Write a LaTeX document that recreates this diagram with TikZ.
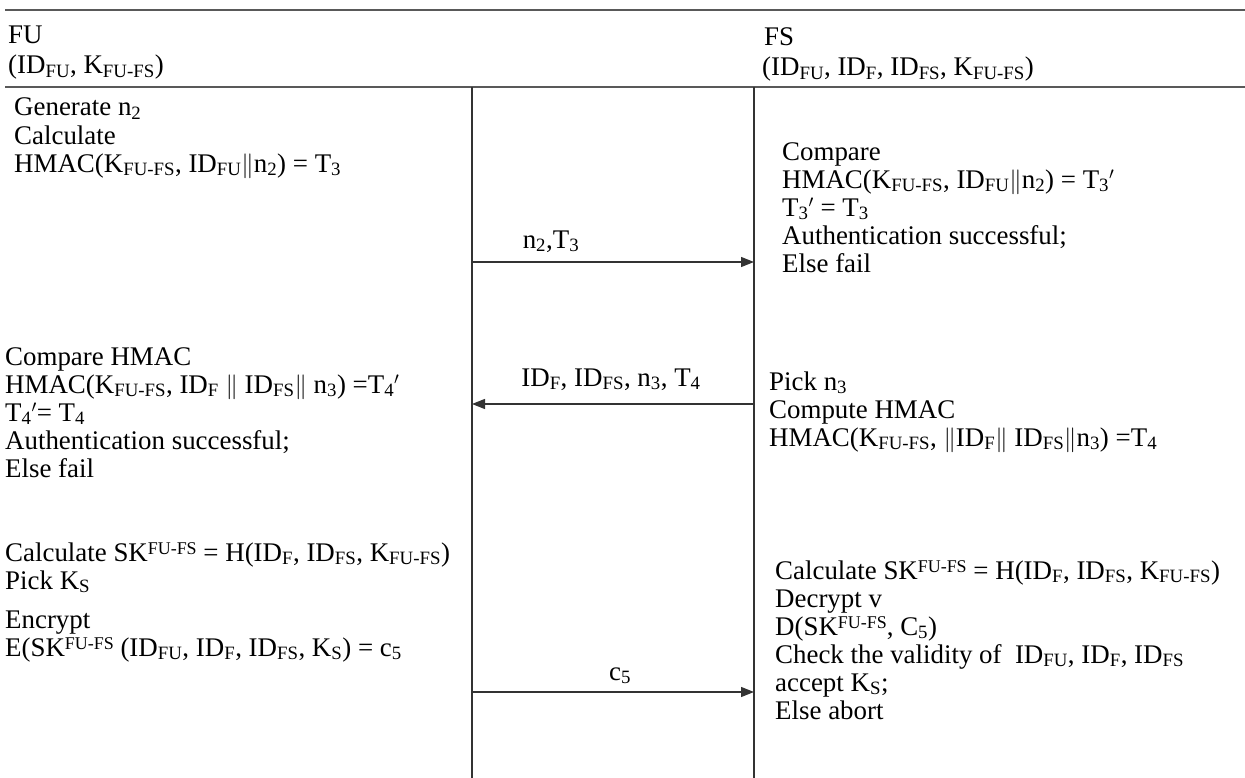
\documentclass[tikz,border=0pt]{standalone}
\usepackage{fontspec}
\setmainfont{Liberation Serif}
\usetikzlibrary{arrows.meta}

\newcommand{\sub}[1]{\textsubscript{#1}}
\newcommand{\sups}[1]{\raisebox{6.5bp}{\fontsize{18}{18}\selectfont #1}}
\newcommand{\kfufs}{K\sub{FU-FS}}
\newcommand{\skfufs}{SK\sups{FU-FS}}
\newcommand{\linegap}{28}

\tikzset{
  txt/.style={anchor=base west, inner sep=0pt,
    font=\fontsize{27}{31}\selectfont},
  msg/.style={anchor=base, inner sep=0pt, font=\fontsize{27}{31}\selectfont},
  rule/.style={draw=black!65, line width=1.6bp},
  life/.style={draw=black!80, line width=1.2bp},
  sendto/.style={draw=black!80, line width=1.2bp, -{Triangle[length=13bp,width=10bp]}}
}

\begin{document}
\begin{tikzpicture}[x=1bp, y=-1bp]
        \useasboundingbox (0,0) rectangle (1245,778);
        % header rules
        \coordinate (ruleAw) at (5,10);
        \coordinate (ruleAe) at (1245,10);
        \coordinate (ruleBw) at (5,87);
        \coordinate (ruleBe) at (1245,87);
        \draw[rule] (ruleAw) -- (ruleAe);
        \draw[rule] (ruleBw) -- (ruleBe);
        % life lines
        \coordinate (fuTop) at (472,87);
        \coordinate (fuBot) at (472,778);
        \coordinate (fsTop) at (754,87);
        \coordinate (fsBot) at (754,778);
        \draw[life] (fuTop) -- (fuBot);
        \draw[life] (fsTop) -- (fsBot);
        % parties
        \node[txt] (fuName) at (8,44) {FU};
        \node[txt] (fuKeys) at (8,74) {(ID\sub{FU}, \kfufs)};
        \node[txt] (fsName) at (764,46) {FS};
        \node[txt] (fsKeys) at (762,76) {(ID\sub{FU}, ID\sub{F}, ID\sub{FS}, \kfufs)};
        % step 1
        \foreach \t [count=\i from 0] in {{Generate n\sub{2}},{Calculate},{HMAC(\kfufs, ID\sub{FU}$\|$n\sub{2}) = T\sub{3}}}
          \node[txt] (fuGen\i) at (14,116+\linegap*\i) {\t};
        \coordinate (m1w) at (472,262);
        \coordinate (m1e) at (754,262);
        \draw[sendto] (m1w) -- (m1e);
        \node[msg] (m1txt) at (551,248) {n\sub{2},T\sub{3}};
        \foreach \t [count=\i from 0] in {{Compare},{HMAC(\kfufs, ID\sub{FU}$\|$n\sub{2}) = T\sub{3}$'$},{T\sub{3}$'$ = T\sub{3}},{Authentication successful;},{Else fail}}
          \node[txt] (fsCmp\i) at (782,160+\linegap*\i) {\t};
        % step 2
        \foreach \t [count=\i from 0] in {{Pick n\sub{3}},{Compute HMAC},{HMAC(\kfufs, $\|$ID\sub{F}$\|$ ID\sub{FS}$\|$n\sub{3}) =T\sub{4}}}
          \node[txt] (fsPick\i) at (769,390+\linegap*\i) {\t};
        \coordinate (m2e) at (754,404);
        \coordinate (m2w) at (472,404);
        \draw[sendto] (m2e) -- (m2w);
        \node[msg] (m2txt) at (611,386) {ID\sub{F}, ID\sub{FS}, n\sub{3}, T\sub{4}};
        \foreach \t [count=\i from 0] in {{Compare HMAC},{HMAC(\kfufs, ID\sub{F} $\|$ ID\sub{FS}$\|$ n\sub{3}) =T\sub{4}$'$},{T\sub{4}$'$= T\sub{4}},{Authentication successful;},{Else fail}}
          \node[txt] (fuCmp\i) at (5,365+\linegap*\i) {\t};
        % step 3
        \node[txt] (fuSk) at (5,561) {Calculate \skfufs{} = H(ID\sub{F}, ID\sub{FS}, \kfufs)};
        \node[txt] (fuPick) at (5,589) {Pick K\sub{S}};
        \node[txt] (fuEnc) at (5,628) {Encrypt};
        \node[txt] (fuCipher) at (5,656) {E(\skfufs{} (ID\sub{FU}, ID\sub{F}, ID\sub{FS}, K\sub{S}) = c\sub{5}};
        \coordinate (m3w) at (472,692);
        \coordinate (m3e) at (754,692);
        \draw[sendto] (m3w) -- (m3e);
        \node[msg] (m3txt) at (620,680) {c\sub{5}};
        \foreach \t [count=\i from 0] in {{Calculate \skfufs{} = H(ID\sub{F}, ID\sub{FS}, \kfufs)},{Decrypt v},{D(\skfufs, C\sub{5})},{Check the validity of~ ID\sub{FU}, ID\sub{F}, ID\sub{FS}},{accept K\sub{S};},{Else abort}}
          \node[txt] (fsDec\i) at (775,579+\linegap*\i) {\t};
\end{tikzpicture}
\end{document}
